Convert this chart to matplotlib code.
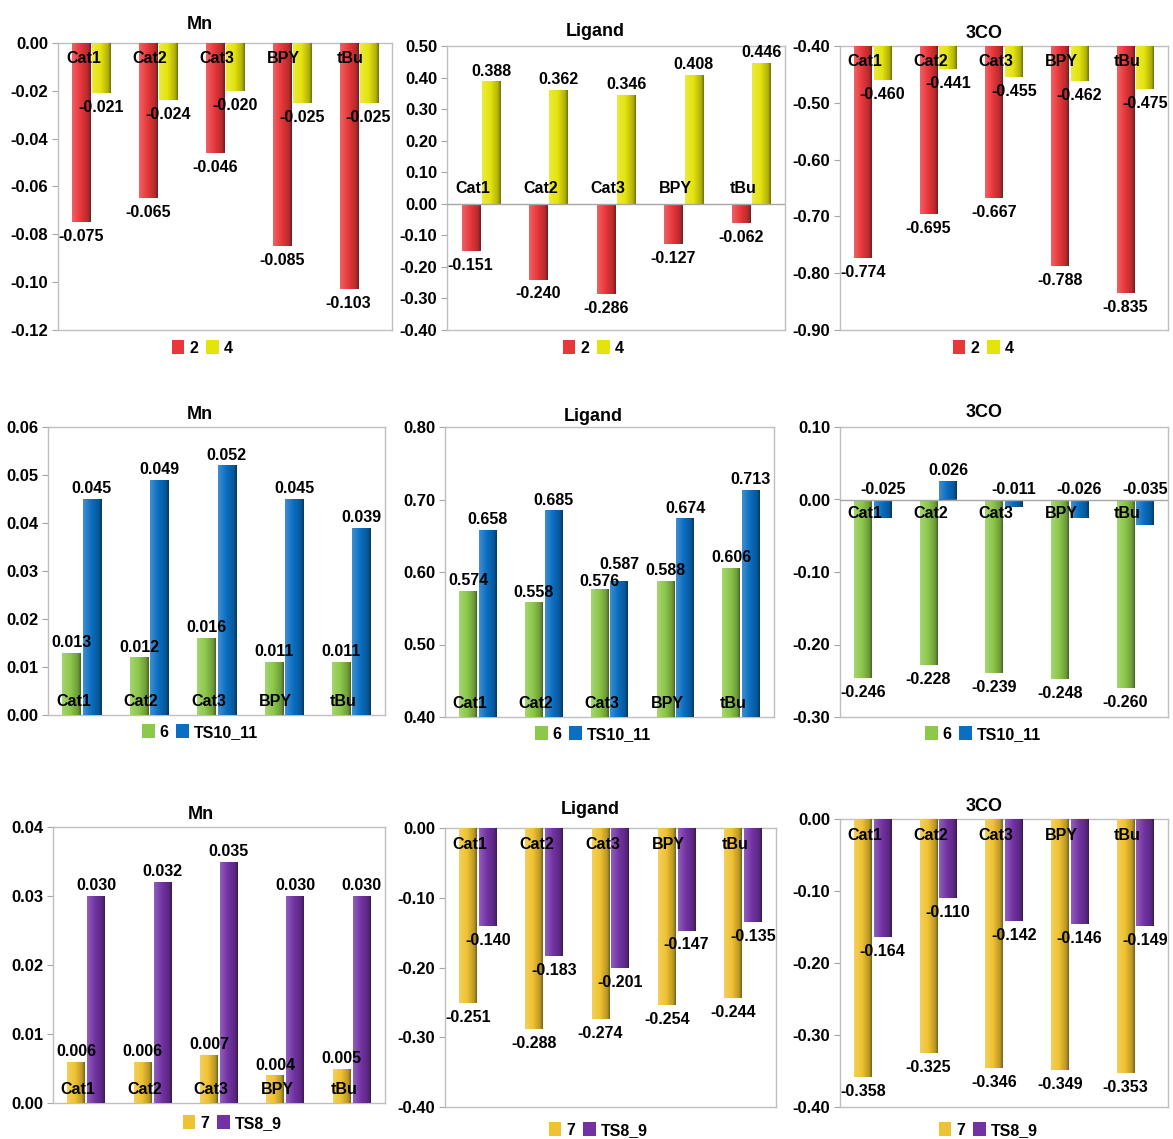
import matplotlib
matplotlib.use('Agg')
import matplotlib.pyplot as plt
import matplotlib.colors as mcolors
from matplotlib.colors import LinearSegmentedColormap
from matplotlib.patches import Patch
import numpy as np

plt.rcParams['font.family'] = ['Liberation Sans', 'DejaVu Sans']
plt.rcParams['font.weight'] = 'bold'

cats = ['Cat1', 'Cat2', 'Cat3', 'BPY', 'tBu']

# row 1 : 2 vs 4
mn_2 = [-0.075, -0.065, -0.046, -0.085, -0.103]
mn_4 = [-0.021, -0.024, -0.020, -0.025, -0.025]
lig_2 = [-0.151, -0.240, -0.286, -0.127, -0.062]
lig_4 = [0.388, 0.362, 0.346, 0.408, 0.446]
co_2 = [-0.774, -0.695, -0.667, -0.788, -0.835]
co_4 = [-0.460, -0.441, -0.455, -0.462, -0.475]

# row 2 : 6 vs TS10_11
mn_6 = [0.013, 0.012, 0.016, 0.011, 0.011]
mn_ts1011 = [0.045, 0.049, 0.052, 0.045, 0.039]
lig_6 = [0.574, 0.558, 0.576, 0.588, 0.606]
lig_ts1011 = [0.658, 0.685, 0.587, 0.674, 0.713]
co_6 = [-0.246, -0.228, -0.239, -0.248, -0.260]
co_ts1011 = [-0.025, 0.026, -0.011, -0.026, -0.035]

# row 3 : 7 vs TS8_9
mn_7 = [0.006, 0.006, 0.007, 0.004, 0.005]
mn_ts89 = [0.030, 0.032, 0.035, 0.030, 0.030]
lig_7 = [-0.251, -0.288, -0.274, -0.254, -0.244]
lig_ts89 = [-0.140, -0.183, -0.201, -0.147, -0.135]
co_7 = [-0.358, -0.325, -0.346, -0.349, -0.353]
co_ts89 = [-0.164, -0.110, -0.142, -0.146, -0.149]

RED, YEL = '#e8373a', '#e4e40c'
GRN, BLU = '#8cc84a', '#0a6ec2'
GLD, PUR = '#efc231', '#7232a4'

W, H = 1173, 1139
fig = plt.figure(figsize=(W / 100, H / 100), dpi=100)


def rect(l, t, r, b):
    return [l / W, 1 - b / H, (r - l) / W, (b - t) / H]


def shade(ax, bars, color):
    base = np.array(mcolors.to_rgb(color))
    light = base + (1 - base) * 0.22
    cmap = LinearSegmentedColormap.from_list(
        'g', [(0, light), (0.45, base), (0.85, base * 0.78), (1, base * 0.5)])
    grad = np.linspace(0, 1, 64).reshape(1, -1)
    for b in bars:
        x0, w = b.get_x(), b.get_width()
        y0, h = b.get_y(), b.get_height()
        im = ax.imshow(grad, extent=[x0, x0 + w, min(y0, y0 + h), max(y0, y0 + h)],
                       aspect='auto', cmap=cmap, interpolation='bilinear', zorder=3)
        im.set_clip_path(b)


# panels: (rect px, title, title x, title pad, s1, s2, colors, names, ylim, step, base,
#          cat label offset, zero line, series-2 labels always above, legend centre px)
panels = [
    ((58, 43, 392, 330), 'Mn', 0.425, 10, mn_2, mn_4, (RED, YEL), ('2', '4'),
     (-0.12, 0.0), 0.02, 0.0, -11, False, False, (202, 348)),
    ((447, 46, 785, 330), 'Ligand', 0.44, 7, lig_2, lig_4, (RED, YEL), ('2', '4'),
     (-0.40, 0.50), 0.10, 0.0, 11, True, False, (593, 348)),
    ((840, 46, 1168, 330), '3CO', 0.44, 6, co_2, co_4, (RED, YEL), ('2', '4'),
     (-0.90, -0.40), 0.10, -0.40, -11, False, False, (983, 348)),
    ((48, 427, 385, 715), 'Mn', 0.45, 6, mn_6, mn_ts1011, (GRN, BLU), ('6', 'TS10_11'),
     (0.0, 0.06), 0.01, 0.0, 10, False, False, (200, 732)),
    ((445, 427, 774, 717), 'Ligand', 0.45, 4, lig_6, lig_ts1011, (GRN, BLU), ('6', 'TS10_11'),
     (0.40, 0.80), 0.10, 0.40, 10, False, False, (593, 734)),
    ((840, 427, 1168, 717), '3CO', 0.44, 7, co_6, co_ts1011, (GRN, BLU), ('6', 'TS10_11'),
     (-0.30, 0.10), 0.10, 0.0, -10, True, True, (983, 734)),
    ((53, 827, 385, 1103), 'Mn', 0.446, 6, mn_7, mn_ts89, (GLD, PUR), ('7', 'TS8_9'),
     (0.0, 0.04), 0.01, 0.0, 10, False, False, (232, 1123)),
    ((445, 828, 776, 1107), 'Ligand', 0.44, 10, lig_7, lig_ts89, (GLD, PUR), ('7', 'TS8_9'),
     (-0.40, 0.0), 0.10, 0.0, -12, False, False, (598, 1130)),
    ((840, 819, 1168, 1107), '3CO', 0.44, 6, co_7, co_ts89, (GLD, PUR), ('7', 'TS8_9'),
     (-0.40, 0.0), 0.10, 0.0, -12, False, False, (988, 1130)),
]

# small nudges (points) for labels that would collide: (panel, series, index) -> dy
nudge = {(4, 1, 2): 5, (4, 0, 2): -2}

bw = 0.27
off = 0.15
x = np.arange(len(cats))

for p, (rp, title, tx, tpad, s1, s2, cols, names, ylim, step, base,
        cat_off, zline, s2_above, leg) in enumerate(panels):
    ax = fig.add_axes(rect(*rp))
    for s, (vals, pos, col, upper) in enumerate(((s1, x - off, cols[0], False),
                                                 (s2, x + off, cols[1], s2_above))):
        vals = np.array(vals)
        bars = ax.bar(pos, vals - base, bw, bottom=base, color=col, zorder=2)
        shade(ax, bars, col)
        for i, (xi, v) in enumerate(zip(pos, vals)):
            dy = nudge.get((p, s, i), 0)
            if upper or v >= base:
                ax.annotate(f'{v:.3f}', (xi, max(v, base)), xytext=(0, 2 + dy),
                            textcoords='offset points', ha='center', va='bottom',
                            fontsize=11.5, fontweight='bold', zorder=5)
            else:
                ax.annotate(f'{v:.3f}', (xi, v), xytext=(0, -5 + dy),
                            textcoords='offset points', ha='center', va='top',
                            fontsize=11.5, fontweight='bold', zorder=5)
    for xi, c in zip(x - off + 0.03, cats):
        ax.annotate(c, (xi, base), xytext=(0, cat_off), textcoords='offset points',
                    ha='center', va='center', fontsize=11.5, fontweight='bold', zorder=6)
    if zline:
        ax.axhline(0, color='#a6a6a6', lw=1, zorder=4)
    ax.set_xlim(-0.5, len(cats) - 0.5)
    ax.set_ylim(*ylim)
    ticks = np.arange(ylim[0], ylim[1] + step / 2, step)
    ax.set_yticks(ticks)
    ax.set_yticklabels([f'{t:.2f}' if abs(t) > 1e-9 else '0.00' for t in ticks],
                       fontsize=12, fontweight='bold')
    ax.set_xticks([])
    ax.tick_params(axis='y', length=4, color='#a6a6a6', pad=3)
    for sp in ax.spines.values():
        sp.set_color('#bfbfbf')
        sp.set_linewidth(1)
    ax.set_title(title, x=tx, pad=tpad, fontsize=13, fontweight='bold')
    handles = [Patch(facecolor=cols[0]), Patch(facecolor=cols[1])]
    fig.legend(handles, names, loc='center', bbox_to_anchor=(leg[0] / W, 1 - leg[1] / H),
               ncol=2, frameon=False, handlelength=0.8, handleheight=1.0,
               handletextpad=0.3, columnspacing=0.5, prop={'size': 11.5, 'weight': 'bold'})

fig.savefig('out.png', dpi=100)
